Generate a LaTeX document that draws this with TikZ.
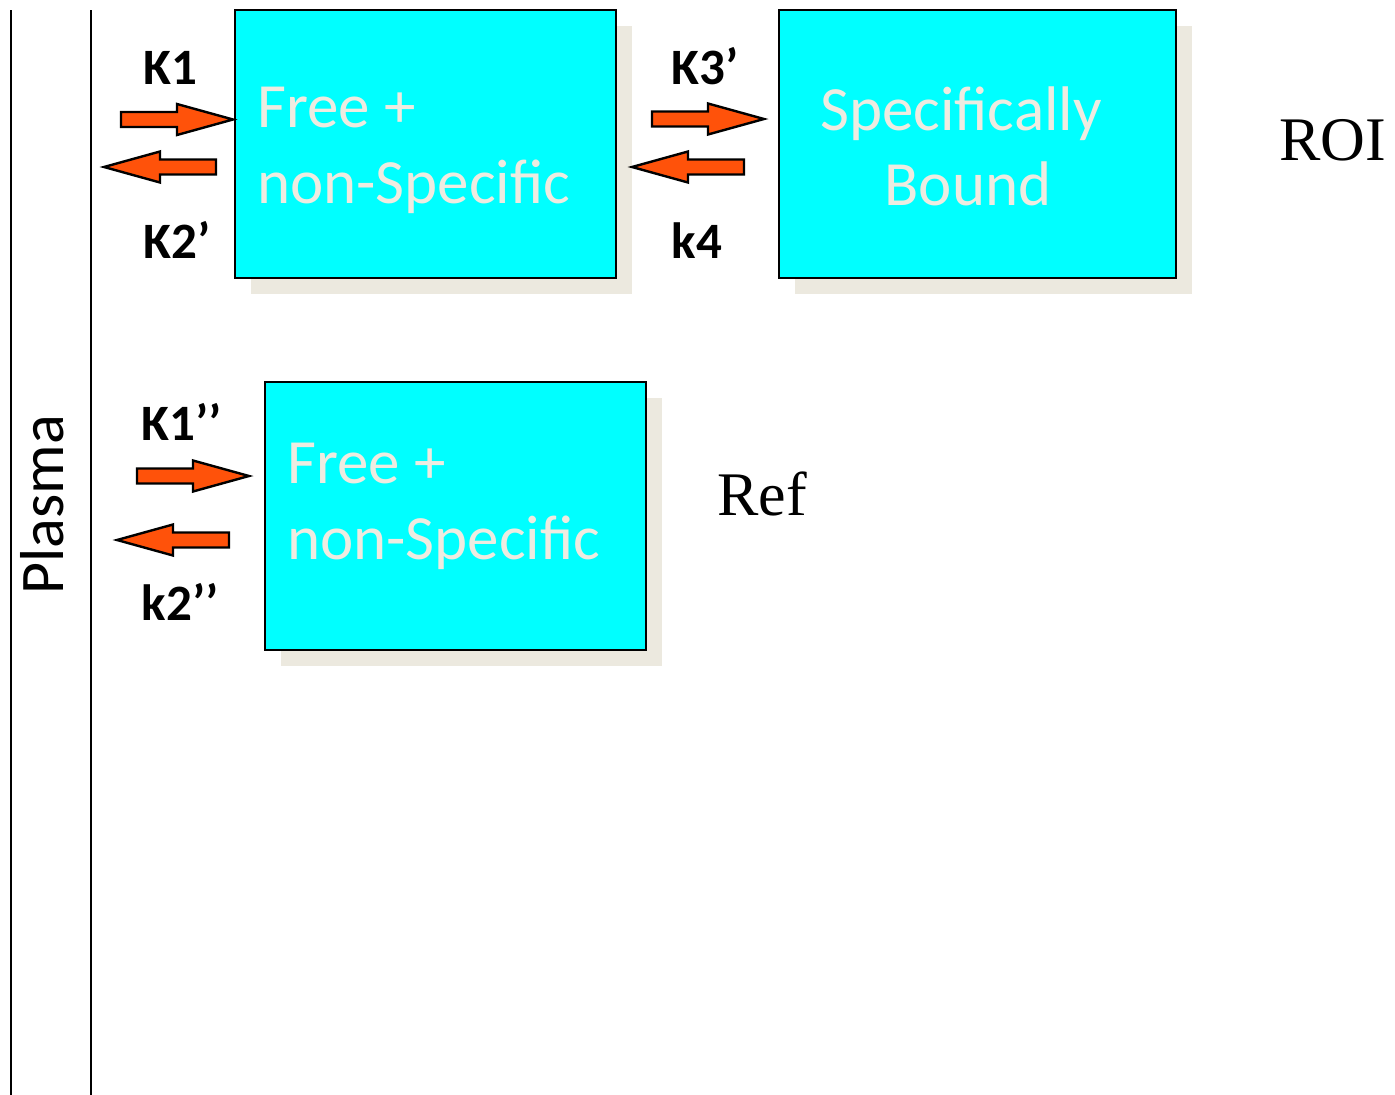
\documentclass[tikz,border=0pt]{standalone}
\usepackage{fontspec}
\setmainfont{Liberation Serif}
\newfontfamily\calfont{Carlito}
\usetikzlibrary{shadows}
\definecolor{boxcyan}{RGB}{0,255,255}
\definecolor{shadowc}{RGB}{236,233,223}
\definecolor{boxtext}{RGB}{238,236,225}
\definecolor{arrowc}{RGB}{255,82,10}
\tikzset{
  box/.style={draw=black, line width=2.5pt, fill=boxcyan, inner sep=0pt,
    drop shadow={shadow xshift=16pt, shadow yshift=-16pt, fill=shadowc, opacity=1}},
  boxtxt/.style={text=boxtext, inner sep=0pt, font=\calfont\fontsize{63}{76}\selectfont},
  rate/.style={inner sep=0pt, anchor=base, font=\calfont\bfseries\fontsize{51}{60}\selectfont},
  region/.style={inner sep=0pt, anchor=base west, font=\fontsize{62}{72}\selectfont},
  blockarrow/.style={draw=black, line width=2.4pt, fill=arrowc, line join=miter},
  rarr/.pic={\path[blockarrow] (-112,-7.5) -- (-56,-7.5) -- (-56,-15.5) -- (0,0) -- (-56,15.5) -- (-56,7.5) -- (-112,7.5) -- cycle;},
  larr/.pic={\path[blockarrow] (112,-7.5) -- (56,-7.5) -- (56,-15.5) -- (0,0) -- (56,15.5) -- (56,7.5) -- (112,7.5) -- cycle;}
}
\begin{document}
\begin{tikzpicture}[x=1pt,y=-1pt]
\useasboundingbox (0,0) rectangle (1395,1095);
% plasma compartment lines
\draw[line width=2.5pt] (11,10) -- (11,1095);
\draw[line width=2.5pt] (91,10) -- (91,1095);
\node[inner sep=0pt, anchor=base, rotate=90, font=\calfont\fontsize{62}{72}\selectfont] (plasma) at (63,505) {Plasma};
% boxes
\node[box, minimum width=381pt, minimum height=268pt] (free1) at (425.5,144) {};
\node[box, minimum width=397pt, minimum height=268pt] (spec) at (977.5,144) {};
\node[box, minimum width=381pt, minimum height=268pt] (free2) at (455.5,516) {};
% box texts
\node[boxtxt, anchor=base west] (f1a) at (257,127) {Free +};
\node[boxtxt, anchor=base west] (f1b) at (257,203) {non-Specific};
\node[boxtxt, anchor=base] (s1a) at (961,130) {Specifically};
\node[boxtxt, anchor=base] (s1b) at (968,205) {Bound};
\node[boxtxt, anchor=base west] (f2a) at (287,483) {Free +};
\node[boxtxt, anchor=base west] (f2b) at (287,559) {non-Specific};
% block arrows
\pic at (233,119.5) {rarr};
\pic at (104,167) {larr};
\pic at (764,119) {rarr};
\pic at (632,167) {larr};
\pic at (249,476) {rarr};
\pic at (117,540) {larr};
% rate labels
\node[rate] (k1) at (170,84) {K1};
\node[rate] (k2) at (177,258) {K2’};
\node[rate] (k3) at (705,84) {K3’};
\node[rate] (k4) at (697,258) {k4};
\node[rate] (k1r) at (182,440) {K1’’};
\node[rate] (k2r) at (180,620) {k2’’};
% region labels
\node[region] (roi) at (1279,160) {ROI};
\node[region] (ref) at (717,515) {Ref};
\end{tikzpicture}
\end{document}
